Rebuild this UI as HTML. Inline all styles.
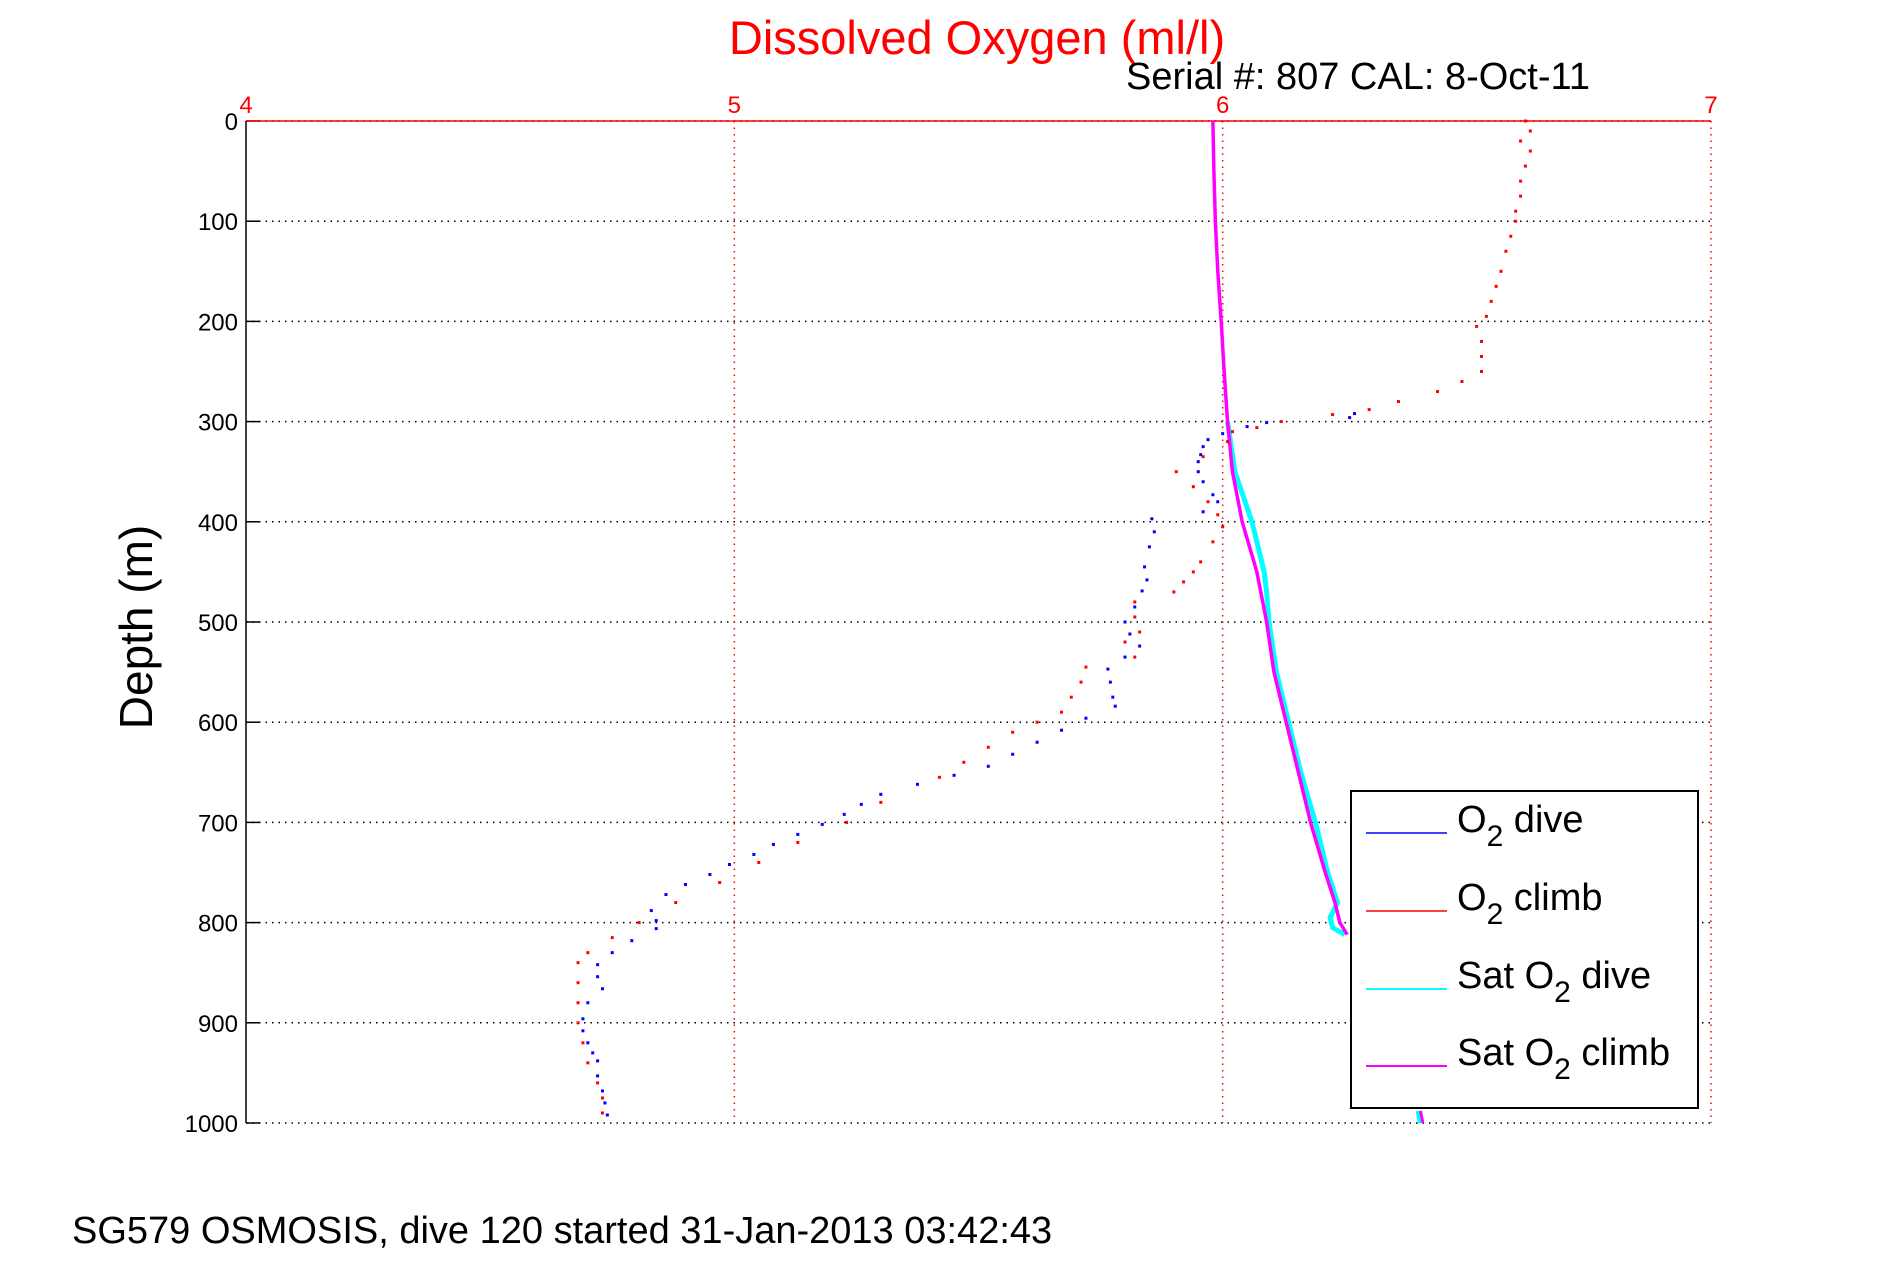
<!DOCTYPE html>
<html><head><meta charset="utf-8"><style>
html,body{margin:0;padding:0;background:#fff;}
svg{display:block;font-family:"Liberation Sans",sans-serif;}
</style></head><body>
<svg id="chart" width="1891" height="1262" viewBox="0 0 1891 1262">
<g id="grid"></g>
<g id="axes"></g>
<g id="series"></g>
<text x="977" y="54" text-anchor="middle" font-size="47" fill="#ff0000">Dissolved Oxygen (ml/l)</text>
<text x="1126" y="89" font-size="38" fill="#000">Serial #: 807  CAL: 8-Oct-11</text>
<text transform="translate(152,627) rotate(-90)" text-anchor="middle" font-size="46" fill="#000">Depth (m)</text>
<text x="72" y="1243" font-size="38" fill="#000">SG579 OSMOSIS, dive 120 started 31-Jan-2013 03:42:43</text>
<g>
<rect x="1351" y="791" width="347" height="317" fill="#fff" stroke="#000" stroke-width="2"/>
<g><line x1="1366" y1="833" x2="1447" y2="833" stroke="#0000ff" stroke-width="1.5"/><text x="1457" y="832" font-size="38">O<tspan font-size="30" dy="14">2</tspan><tspan dy="-14"> dive</tspan></text></g>
<g><line x1="1366" y1="911" x2="1447" y2="911" stroke="#ff0000" stroke-width="1.5"/><text x="1457" y="910" font-size="38">O<tspan font-size="30" dy="14">2</tspan><tspan dy="-14"> climb</tspan></text></g>
<g><line x1="1366" y1="989" x2="1447" y2="989" stroke="#00ffff" stroke-width="2"/><text x="1457" y="988" font-size="38">Sat O<tspan font-size="30" dy="14">2</tspan><tspan dy="-14"> dive</tspan></text></g>
<g><line x1="1366" y1="1066" x2="1447" y2="1066" stroke="#ff00ff" stroke-width="2"/><text x="1457" y="1065" font-size="38">Sat O<tspan font-size="30" dy="14">2</tspan><tspan dy="-14"> climb</tspan></text></g>
</g>
</svg>
<script>
const xTicks=[4,5,6,7];
const yTicks=[0,100,200,300,400,500,600,700,800,900,1000];
const satClimbDepth=[0,50,100,150,200,250,300,350,400,450,500,550,600,650,700,750,780,800,812];
const satClimbO2=[5.98,5.982,5.985,5.99,5.997,6.003,6.01,6.02,6.04,6.07,6.09,6.105,6.13,6.155,6.18,6.21,6.23,6.24,6.255];
const satDiveDepth=[300,350,400,430,450,470,500,550,600,650,700,750,780,795,805,812];
const satDiveO2=[6.01,6.025,6.06,6.075,6.085,6.09,6.095,6.11,6.135,6.16,6.19,6.215,6.235,6.22,6.225,6.25];
const satBottomDepth=[988,1000];
const satBottomO2=[6.40,6.405];
const diveDepth=[292,296,301,305,312,318,325,333,340,350,360,373,380,390,397,410,425,445,458,469,485,500,512,524,535,547,560,575,584,596,608,620,632,644,653,662,672,682,692,702,712,722,732,742,752,762,772,788,798,806,818,830,842,854,866,880,896,908,920,930,938,953,968,980,992];
const diveO2=[6.27,6.26,6.09,6.05,6.0,5.97,5.96,5.955,5.95,5.95,5.96,5.98,5.99,5.96,5.855,5.86,5.85,5.84,5.845,5.835,5.82,5.80,5.81,5.83,5.80,5.765,5.77,5.775,5.78,5.72,5.67,5.62,5.57,5.52,5.45,5.375,5.30,5.26,5.225,5.18,5.13,5.08,5.04,4.99,4.95,4.90,4.86,4.83,4.84,4.84,4.79,4.75,4.72,4.72,4.73,4.70,4.69,4.69,4.70,4.71,4.72,4.72,4.73,4.735,4.74];
const climbDepth=[0,10,20,30,45,60,75,90,100,115,130,150,165,180,195,205,220,235,250,260,270,280,288,293,300,306,310,320,335,350,365,380,393,405,420,440,450,460,470,480,495,510,520,535,545,560,575,590,600,610,625,640,655,680,700,720,740,760,780,800,815,830,840,860,880,900,920,940,960,975,990];
const climbO2=[6.62,6.63,6.61,6.63,6.62,6.61,6.61,6.60,6.60,6.59,6.58,6.57,6.56,6.55,6.54,6.52,6.53,6.53,6.53,6.49,6.44,6.36,6.30,6.225,6.12,6.07,6.02,6.01,5.96,5.905,5.94,5.97,5.99,6.0,5.98,5.955,5.94,5.92,5.90,5.82,5.82,5.83,5.80,5.82,5.72,5.71,5.69,5.67,5.62,5.57,5.52,5.47,5.42,5.30,5.23,5.13,5.05,4.97,4.88,4.805,4.75,4.70,4.68,4.68,4.68,4.68,4.69,4.70,4.72,4.73,4.73];

const L=246,R=1711,T=121,B=1123;
const xs=v=>L+(v-4)/(7-4)*(R-L);
const ys=d=>T+d/1000*(B-T);
const NS='http://www.w3.org/2000/svg';
function mk(tag,parent,attrs){const e=document.createElementNS(NS,tag);for(const k in attrs)e.setAttribute(k,attrs[k]);parent.appendChild(e);return e;}
const grid=document.getElementById('grid'),axes=document.getElementById('axes'),ser=document.getElementById('series');

yTicks.forEach(d=>{
  const g=mk('line',grid,{x1:L,x2:R,y1:ys(d),y2:ys(d),stroke:'#000','stroke-width':1.5,'stroke-dasharray':'1.5 5'});
  
  
  const t=mk('line',axes,{x1:L,x2:L+14,y1:ys(d),y2:ys(d),stroke:'#000','stroke-width':1.5});
  
  
  const lb=mk('text',axes,{x:L-8,y:ys(d)+9,'text-anchor':'end','font-size':24,fill:'#000'});
  lb.textContent=String(d);
  
  
});
xTicks.forEach(v=>{
  if(v>4){const g=mk('line',grid,{x1:xs(v),x2:xs(v),y1:T,y2:B,stroke:'#ff0000','stroke-width':1.5,'stroke-dasharray':'1.5 5'});
  
  }
  const lb=mk('text',axes,{x:xs(v),y:T-8,'text-anchor':'middle','font-size':24,fill:'#ff0000'});
  lb.textContent=String(v);
  
  
});
const ax1=mk('line',axes,{x1:L,x2:R,y1:T,y2:T,stroke:'#ff0000','stroke-width':1.5});


const ax2=mk('line',axes,{x1:L,x2:L,y1:T,y2:B,stroke:'#000','stroke-width':1.5});



function line(dep,val,color,w,name){
  const p=mk('polyline',ser,{points:dep.map((d,i)=>xs(val[i])+','+ys(d)).join(' '),fill:'none',stroke:color,'stroke-width':w});
  
  
}
function dots(dep,val,color,name){
  dep.forEach((d,i)=>{
    const r=mk('rect',ser,{x:xs(val[i])-1.5,y:ys(d)-1.5,width:3,height:3,fill:color});
    
    
  });
}
line(satDiveDepth,satDiveO2,'#00ffff',5,'sat-o2-dive-line');
line(satBottomDepth,satBottomO2,'#00ffff',5,'sat-o2-dive-bottom');
line(satClimbDepth,satClimbO2,'#ff00ff',3.5,'sat-o2-climb-line');
line(satBottomDepth,satBottomO2.map(v=>v+0.005),'#ff00ff',3,'sat-o2-climb-bottom');
dots(climbDepth,climbO2,'#ff0000','o2-climb-point');
dots(diveDepth,diveO2,'#0000ff','o2-dive-point');
</script>
</body></html>
